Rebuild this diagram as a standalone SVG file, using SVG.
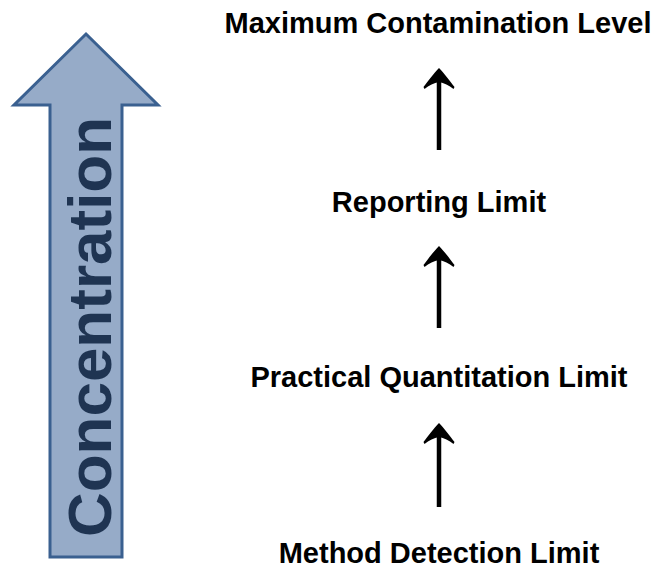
<svg xmlns="http://www.w3.org/2000/svg" width="656" height="569" viewBox="0 0 656 569">
<style>
.lbl{font-family:"Liberation Sans",Arial,sans-serif;font-weight:bold;font-size:29px;fill:#000;text-anchor:middle}
.shaft{stroke:#000;stroke-width:4.5;fill:none}
.head{fill:#000}
</style>
<defs>
<path id="ah" d="M0,0 C5,5 11,13 15.5,19 L14.5,21 C10,17.5 5,15 0,14 C-5,15 -10,17.5 -14.5,21 L-15.5,19 C-11,13 -5,5 0,0 Z"/>
</defs>
<rect width="656" height="569" fill="#fff"/>
<g id="concentration-arrow">
<polygon points="86,34 158,105 122,105 122,557 50,557 50,105 14,105" fill="#96abc8" stroke="#3a6090" stroke-width="3" stroke-linejoin="miter"/>
<text transform="translate(111,327) rotate(-90)" font-family="'Liberation Sans',Arial,sans-serif" font-weight="bold" font-size="62" fill="#1f3452" text-anchor="middle">Concentration</text>
</g>
<g id="mcl"><text class="lbl" x="438" y="33">Maximum Contamination Level</text></g>
<g id="rl"><text class="lbl" x="439" y="212">Reporting Limit</text></g>
<g id="pql"><text class="lbl" x="439" y="387">Practical Quantitation Limit</text></g>
<g id="mdl"><text class="lbl" x="439" y="563">Method Detection Limit</text></g>
<g id="connectors">
<line class="shaft" x1="439" y1="150" x2="439" y2="78"/>
<use href="#ah" class="head" x="439" y="68"/>
<line class="shaft" x1="439" y1="328" x2="439" y2="256"/>
<use href="#ah" class="head" x="439" y="246"/>
<line class="shaft" x1="439" y1="507" x2="439" y2="433"/>
<use href="#ah" class="head" x="439" y="423"/>
</g>
</svg>
